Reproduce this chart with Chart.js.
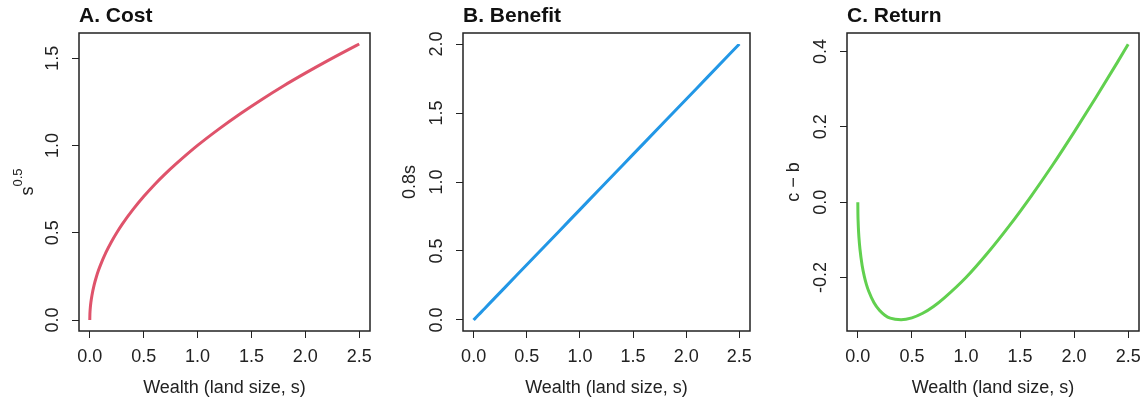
<!DOCTYPE html>
<html>
<head>
<meta charset="utf-8">
<script src="https://cdn.jsdelivr.net/npm/chart.js@4/dist/chart.umd.min.js"></script>
<style>
  body { margin: 0; background: #fff; }
  .wrap { position: relative; width: 1142px; height: 400px; }
  .wrap canvas { position: absolute; top: 0; }
</style>
</head>
<body>
<div class="wrap">
  <canvas id="cA" style="left:0px"></canvas>
  <canvas id="cB" style="left:380px"></canvas>
  <canvas id="cC" style="left:760px"></canvas>
</div>
<script>
/* data */
const wealth  = [0, 0.001, 0.0025, 0.005, 0.01, 0.02, 0.04, 0.06, 0.08, 0.1, 0.15, 0.2, 0.25, 0.3, 0.4, 0.5, 0.6, 0.7, 0.8, 1.0, 1.2, 1.4, 1.6, 1.8, 2.0, 2.2, 2.4, 2.5];
const cost    = [0, 0.032, 0.05, 0.071, 0.1, 0.141, 0.2, 0.245, 0.283, 0.316, 0.387, 0.447, 0.5, 0.548, 0.632, 0.707, 0.775, 0.837, 0.894, 1.0, 1.095, 1.183, 1.265, 1.342, 1.414, 1.483, 1.549, 1.581];
const benefit = [0, 0.001, 0.002, 0.004, 0.008, 0.016, 0.032, 0.048, 0.064, 0.08, 0.12, 0.16, 0.2, 0.24, 0.32, 0.4, 0.48, 0.56, 0.64, 0.8, 0.96, 1.12, 1.28, 1.44, 1.6, 1.76, 1.92, 2.0];
const ret     = [0, -0.031, -0.048, -0.067, -0.092, -0.125, -0.168, -0.197, -0.219, -0.236, -0.267, -0.287, -0.3, -0.308, -0.312, -0.307, -0.295, -0.277, -0.254, -0.2, -0.135, -0.063, 0.015, 0.098, 0.186, 0.277, 0.371, 0.419];

const xTicks  = [0, 0.5, 1.0, 1.5, 2.0, 2.5];
const yTicksA = [0, 0.5, 1.0, 1.5];
const yTicksB = [0, 0.5, 1.0, 1.5, 2.0];
const yTicksC = [-0.2, 0.0, 0.2, 0.4];

const FONT = '"Liberation Sans", Arial, sans-serif';
const INK = '#222';

// box, titles and rotated tick labels in the R look
const rPlot = {
    id: 'rPlot',
    afterDraw(chart) {
        const ctx = chart.ctx;
        const a = chart.chartArea;
        const o = chart.options.plugins.rPlot;
        const xs = chart.scales.x, ys = chart.scales.y;
        ctx.save();
        ctx.strokeStyle = INK;
        ctx.lineWidth = 1.5;
        ctx.strokeRect(a.left, a.top, a.right - a.left, a.bottom - a.top);

        ctx.fillStyle = '#111';
        ctx.font = 'bold 21px ' + FONT;
        ctx.textAlign = 'left';
        ctx.textBaseline = 'alphabetic';
        ctx.fillText(o.title, a.left, 22);

        ctx.fillStyle = INK;
        ctx.font = '18px ' + FONT;
        ctx.textAlign = 'center';
        ctx.textBaseline = 'middle';
        for (const t of xs.ticks) {
            ctx.fillText(t.value.toFixed(1), xs.getPixelForValue(t.value), 357);
        }
        ctx.textBaseline = 'alphabetic';
        ctx.fillText('Wealth (land size, s)', (a.left + a.right) / 2, 393);

        for (const t of ys.ticks) {
            ctx.save();
            ctx.translate(a.left - 26, ys.getPixelForValue(t.value));
            ctx.rotate(-Math.PI / 2);
            ctx.textBaseline = 'middle';
            ctx.fillText(t.value.toFixed(1), 0, 0);
            ctx.restore();
        }

        ctx.save();
        ctx.translate(a.left - 53, (a.top + a.bottom) / 2);
        ctx.rotate(-Math.PI / 2);
        ctx.textBaseline = 'middle';
        if (o.ytitleSup) {
            ctx.font = '18px ' + FONT;
            const w1 = ctx.measureText(o.ytitle).width;
            ctx.font = '13px ' + FONT;
            const w2 = ctx.measureText(o.ytitleSup).width;
            const x0 = -(w1 + w2) / 2;
            ctx.textAlign = 'left';
            ctx.font = '18px ' + FONT;
            ctx.fillText(o.ytitle, x0, 2);
            ctx.font = '13px ' + FONT;
            ctx.fillText(o.ytitleSup, x0 + w1, -8);
        } else {
            ctx.fillText(o.ytitle, 0, 0);
        }
        ctx.restore();
        ctx.restore();
    }
};

function makeChart(id, width, yWidth, padRight, values, color, yMin, yMax, yTicks, title, ytitle, ytitleSup) {
    const cv = document.getElementById(id);
    cv.width = width;
    cv.height = 400;
    cv.style.width = width + 'px';
    cv.style.height = '400px';
    return new Chart(cv, {
        type: 'line',
        data: {
            datasets: [{
                data: wealth.map((w, i) => ({ x: w, y: values[i] })),
                borderColor: color,
                borderWidth: 3,
                pointRadius: 0,
                cubicInterpolationMode: 'monotone',
                fill: false
            }]
        },
        options: {
            responsive: false,
            animation: false,
            layout: { padding: { top: 33, right: padRight, left: 0, bottom: 0 } },
            plugins: {
                legend: { display: false },
                tooltip: { enabled: false },
                rPlot: { title: title, ytitle: ytitle, ytitleSup: ytitleSup }
            },
            scales: {
                x: {
                    type: 'linear',
                    min: -0.1,
                    max: 2.6,
                    afterBuildTicks: s => { s.ticks = xTicks.map(v => ({ value: v })); },
                    afterFit: s => { s.height = 69; },
                    ticks: { display: false },
                    border: { display: false },
                    grid: { drawOnChartArea: false, drawTicks: true, tickLength: 7, color: INK, lineWidth: 1 }
                },
                y: {
                    type: 'linear',
                    min: yMin,
                    max: yMax,
                    afterBuildTicks: s => { s.ticks = yTicks.map(v => ({ value: v })); },
                    afterFit: s => { s.width = yWidth; },
                    ticks: { display: false },
                    border: { display: false },
                    grid: { drawOnChartArea: false, drawTicks: true, tickLength: 7, color: INK, lineWidth: 1 }
                }
            }
        },
        plugins: [rPlot]
    });
}

makeChart('cA', 380, 79, 10, cost, '#DF536B', -0.063, 1.644, yTicksA, 'A. Cost', 's', '0.5');
makeChart('cB', 380, 83, 10, benefit, '#2297E6', -0.08, 2.08, yTicksB, 'B. Benefit', '0.8s', null);
makeChart('cC', 382, 87, 3, ret, '#61D04F', -0.342, 0.449, yTicksC, 'C. Return', 'c \u2212 b', null);
</script>
</body>
</html>
